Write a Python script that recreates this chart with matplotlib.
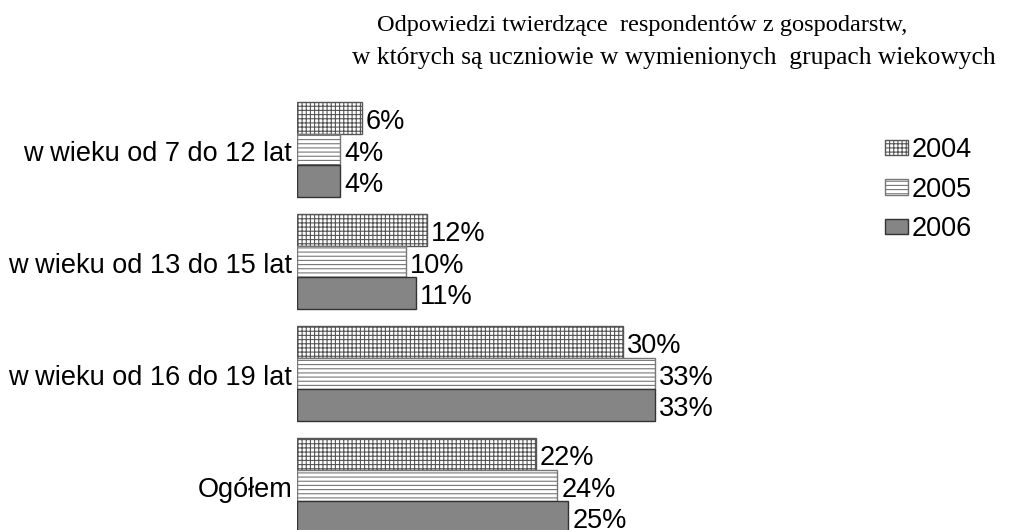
import matplotlib
matplotlib.use('Agg')
import matplotlib.pyplot as plt
from matplotlib.patches import Patch

# data
categories = ['w wieku od 7 do 12 lat', 'w wieku od 13 do 15 lat',
              'w wieku od 16 do 19 lat', 'Ogółem']
years = ['2004', '2005', '2006']
v2004 = [6, 12, 30, 22]
v2005 = [4, 10, 33, 24]
v2006 = [4, 11, 33, 25]

title_1 = 'Odpowiedzi twierdzące  respondentów z gospodarstw,'
title_2 = 'w których są uczniowie w wymienionych  grupach wiekowych'

W, H = 1013, 530
BAR_PX = 31.7
GROUP_STEP = 112 / BAR_PX
TOP_PX = 102
FS = 19.5
TEXT_DY = 4 / BAR_PX   # glyphs sit a touch below the bar centre

STYLES = [
    dict(facecolor='white', hatch='++++', edgecolor='#555555'),
    dict(facecolor='white', hatch='----', edgecolor='#777777'),
    dict(facecolor='#858585', hatch=None, edgecolor='#333333'),
]

plt.rcParams['hatch.linewidth'] = 0.8
plt.rcParams['font.family'] = ['Liberation Sans', 'DejaVu Sans']

fig = plt.figure(figsize=(W / 100, H / 100), dpi=100)
x0 = 297
px_per_pct = 10.85
xmax = 60
ax = fig.add_axes([x0 / W, 0, xmax * px_per_pct / W, 1])
ax.set_xlim(0, xmax)
top = -TOP_PX / BAR_PX
ax.set_ylim(top + H / BAR_PX, top)
ax.axis('off')

series = [v2004, v2005, v2006]
for s, vals in enumerate(series):
    ys = [g * GROUP_STEP + s for g in range(len(categories))]
    st = STYLES[s]
    ax.barh(ys, vals, height=1, align='edge', facecolor=st['facecolor'],
            hatch=st['hatch'], edgecolor=st['edgecolor'], linewidth=1.0)
    for y, v in zip(ys, vals):
        ax.text(v + 4 / px_per_pct, y + 0.5 + TEXT_DY, f'{v}%', ha='left',
                va='center', fontsize=FS, color='black')

for g, cat in enumerate(categories):
    ax.text(-5 / px_per_pct, g * GROUP_STEP + 1.5 + TEXT_DY, cat, ha='right',
            va='center', fontsize=FS, color='black')

# legend
handles = [Patch(facecolor=st['facecolor'], hatch=st['hatch'],
                 edgecolor=st['edgecolor'], linewidth=1.0) for st in STYLES]
fig.legend(handles, years, loc='upper left',
           bbox_to_anchor=(885 / W, 1 - 137 / H), frameon=False,
           fontsize=FS, handlelength=0.85, handleheight=0.5,
           handletextpad=0.15, labelspacing=0.5, borderpad=0,
           borderaxespad=0)

fig.text(642 / W, 1 - 26 / H, title_1, ha='center', va='center',
         fontsize=17.6, family=['Liberation Serif'])
fig.text(674 / W, 1 - 58 / H, title_2, ha='center', va='center',
         fontsize=18.4, family=['Liberation Serif'])

plt.savefig('out.png', dpi=100)
